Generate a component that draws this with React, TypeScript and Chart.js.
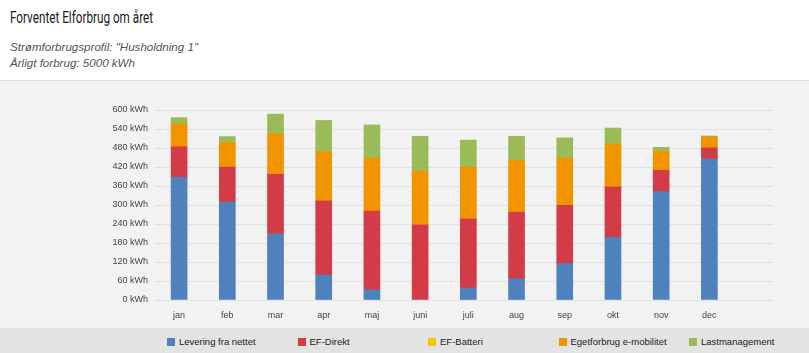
import React, { useEffect, useRef } from 'react';
import { Chart, registerables } from 'chart.js';

Chart.register(...registerables);

const months = ['jan', 'feb', 'mar', 'apr', 'maj', 'juni', 'juli', 'aug', 'sep', 'okt', 'nov', 'dec'];
const seriesNames = ['Levering fra nettet', 'EF-Direkt', 'EF-Batteri', 'Egetforbrug e-mobilitet', 'Lastmanagement'];
const seriesColors = ['#4f81bd', '#d33b46', '#f5c400', '#f09400', '#9bbb59'];

const levering = [387, 309, 209, 79, 32, 0, 38, 67, 115, 198, 342, 446];
const efDirekt = [97, 111, 189, 234, 249, 237, 218, 211, 184, 159, 68, 35];
const efBatteri = [0, 0, 0, 0, 0, 0, 0, 0, 0, 0, 0, 0];
const egetforbrug = [72, 77, 127, 156, 167, 170, 164, 164, 149, 136, 59, 34];
const lastmanagement = [20, 19, 62, 98, 105, 110, 85, 75, 64, 50, 13, 3];

const yTicks = [0, 60, 120, 180, 240, 300, 360, 420, 480, 540, 600];

const seriesValues = [levering, efDirekt, efBatteri, egetforbrug, lastmanagement];

export default function App() {
  const canvasRef = useRef<HTMLCanvasElement | null>(null);

  useEffect(() => {
    document.body.style.margin = '0';
    const canvas = canvasRef.current;
    if (!canvas) return;
    const chart = new Chart(canvas, {
      type: 'bar',
      data: {
        datasets: seriesNames.map((name, si) => ({
          label: name,
          data: seriesValues[si].map((v, i) => ({ x: i, y: v })),
          backgroundColor: seriesColors[si],
          borderWidth: 0,
          barThickness: 16,
        })),
      },
      options: {
        animation: false,
        responsive: false,
        devicePixelRatio: 1,
        layout: { padding: { left: 0, right: 36, top: 29, bottom: 0 } },
        plugins: { legend: { display: false }, tooltip: { enabled: false }, title: { display: false } },
        scales: {
          x: {
            type: 'linear',
            min: -0.5,
            max: 12.32,
            offset: false,
            stacked: true,
            grid: { display: false, offset: false },
            border: { display: false },
            afterBuildTicks: (scale: any) => {
              scale.ticks = months.map((_, i) => ({ value: i }));
            },
            afterFit: (scale: any) => {
              scale.height = 28;
            },
            ticks: {
              autoSkip: false,
              maxRotation: 0,
              padding: 2,
              color: '#444',
              font: { family: 'Arial, "Liberation Sans", sans-serif', size: 9 },
              callback: (v: any) => months[Math.round(Number(v))] ?? '',
            },
          },
          y: {
            stacked: true,
            min: 0,
            max: 600,
            afterBuildTicks: (scale: any) => {
              scale.ticks = yTicks.map((v) => ({ value: v }));
            },
            afterFit: (scale: any) => {
              scale.width = 155;
            },
            grid: { color: '#e1e1e1', drawTicks: false, lineWidth: 1 },
            border: { display: false },
            ticks: {
              padding: 7,
              color: '#444',
              font: { family: 'Arial, "Liberation Sans", sans-serif', size: 9 },
              callback: (v: any) => `${v} kWh`,
            },
          },
        },
      },
    });
    return () => chart.destroy();
  }, []);

  return (
    <div style={{ width: 809, height: 353, position: 'relative', background: '#fff', overflow: 'hidden' }}>
      <div style={{ height: 80, borderBottom: '1px solid #e0e0e0', background: '#fff', position: 'relative' }}>
        <div
          style={{
            position: 'absolute',
            left: 10,
            top: 8,
            fontFamily: 'Roboto, sans-serif',
            fontSize: 16.5,
            color: '#1a1a1a',
            whiteSpace: 'nowrap',
            transform: 'scaleX(0.71)',
            transformOrigin: 'left top',
          }}
        >
          Forventet Elforbrug om året
        </div>
        <div
          style={{
            position: 'absolute',
            left: 10,
            top: 39,
            fontFamily: 'Arial, "Liberation Sans", sans-serif',
            fontStyle: 'italic',
            fontSize: 11.6,
            lineHeight: '16px',
            color: '#555',
            whiteSpace: 'nowrap',
          }}
        >
          <div>Strømforbrugsprofil: "Husholdning 1"</div>
          <div>Årligt forbrug: 5000 kWh</div>
        </div>
      </div>
      <div style={{ height: 247, background: '#f2f2f2' }}>
        <canvas ref={canvasRef} width={809} height={247} style={{ display: 'block', width: 809, height: 247 }} />
      </div>
      <div style={{ height: 25, background: '#e3e3e3', position: 'relative' }}>
        {seriesNames.map((name, i) => (
          <div
            key={name}
            style={{
              position: 'absolute',
              left: 167 + i * 130.5,
              top: 8,
              display: 'flex',
              alignItems: 'center',
              whiteSpace: 'nowrap',
            }}
          >
            <span style={{ display: 'inline-block', width: 8, height: 8, background: seriesColors[i], marginRight: 4 }} />
            <span style={{ fontFamily: 'Arial, "Liberation Sans", sans-serif', fontSize: 9.5, color: '#222' }}>{name}</span>
          </div>
        ))}
      </div>
    </div>
  );
}
